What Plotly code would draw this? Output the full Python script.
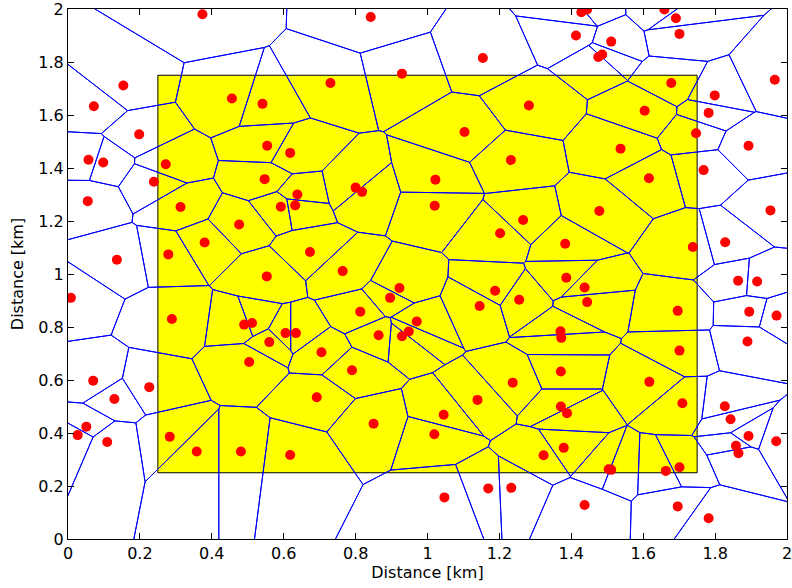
import numpy as np
import plotly.graph_objects as go

# Base-station positions [km]
x_km = [0.374, 0.154, 0.072, 0.198, 0.057, 0.098, 0.239, 0.055, 0.136, 0.272,
        0.313, 0.279, 0.380, 0.476, 0.456, 0.541, 0.554, 0.618, 0.547, 0.638,
        0.592, 0.632, 0.673, 0.553, 0.730, 0.842, 1.154, 0.929, 1.282, 1.103,
        1.232, 1.022, 0.800, 0.818, 1.020, 1.266, 1.202, 0.764, 1.428, 1.444,
        1.659, 1.691, 1.701, 1.413, 1.511, 1.475, 1.486, 1.966, 1.678, 1.799,
        1.604, 1.782, 1.747, 1.537, 1.893, 1.768, 1.616, 1.478, 1.954, 1.383,
        1.828, 1.738, 1.386, 1.864, 1.917, 0.008, 0.289, 0.490, 0.512, 0.605,
        0.634, 0.560, 0.504, 0.705, 0.070, 0.226, 0.129, 0.692, 0.051, 0.027,
        0.109, 0.283, 0.358, 0.481, 0.618, 0.922, 0.896, 0.813, 0.970, 0.948,
        0.929, 0.864, 0.790, 0.850, 1.045, 1.019, 1.139, 1.237, 1.145, 1.188,
        1.255, 1.370, 1.372, 1.371, 1.371, 1.388, 1.323, 1.047, 1.169, 1.233,
        1.437, 1.444, 1.696, 1.895, 1.971, 1.890, 1.701, 1.617, 1.709, 1.827,
        1.843, 1.893, 1.970, 1.858, 1.865, 1.379, 1.504, 1.511, 1.663, 1.701,
        1.437, 1.696, 1.782]
y_km = [1.980, 1.711, 1.633, 1.527, 1.431, 1.421, 1.348, 1.275, 1.054, 1.414,
        1.253, 1.074, 1.119, 1.187, 1.662, 1.642, 1.484, 1.457, 1.358, 1.300,
        1.254, 1.259, 1.083, 0.991, 1.721, 1.970, 1.815, 1.756, 1.636, 1.536,
        1.430, 1.356, 1.326, 1.310, 1.258, 1.204, 1.154, 1.011, 1.988, 1.998,
        1.998, 1.965, 1.906, 1.900, 1.877, 1.819, 1.828, 1.733, 1.721, 1.674,
        1.616, 1.608, 1.531, 1.473, 1.484, 1.392, 1.361, 1.238, 1.240, 1.114,
        1.120, 1.102, 0.986, 0.975, 0.972, 0.910, 0.830, 0.809, 0.815, 0.777,
        0.777, 0.743, 0.668, 0.705, 0.597, 0.573, 0.528, 0.535, 0.424, 0.392,
        0.366, 0.386, 0.330, 0.330, 0.317, 0.947, 0.910, 0.858, 0.821, 0.783,
        0.765, 0.769, 0.637, 0.435, 0.469, 0.395, 0.525, 0.590, 0.879, 0.937,
        0.903, 0.784, 0.759, 0.632, 0.500, 0.475, 0.316, 0.157, 0.191, 0.193,
        0.949, 0.894, 0.861, 0.858, 0.843, 0.745, 0.711, 0.593, 0.512, 0.501,
        0.452, 0.389, 0.369, 0.352, 0.324, 0.344, 0.263, 0.261, 0.257, 0.271,
        0.128, 0.123, 0.078]

# Area of interest (rectangle corners) [km]
area_x = [0.25, 1.75]
area_y = [0.25, 1.75]

tick_vals = [0, 0.2, 0.4, 0.6, 0.8, 1, 1.2, 1.4, 1.6, 1.8, 2]
tick_text = ["0", "0.2", "0.4", "0.6", "0.8", "1", "1.2", "1.4", "1.6", "1.8", "2"]


def voronoi_edges(xs, ys, lo=-5.0, hi=7.0):
    pts = np.column_stack([xs, ys]).astype(float)
    ex, ey = [], []
    for i, p in enumerate(pts):
        poly = [(lo, lo), (hi, lo), (hi, hi), (lo, hi)]
        for j, q in enumerate(pts):
            if i == j:
                continue
            a, b = q - p
            c = (q @ q - p @ p) / 2.0
            new = []
            n = len(poly)
            for k in range(n):
                P = poly[k]
                Q = poly[(k + 1) % n]
                fp = a * P[0] + b * P[1] - c
                fq = a * Q[0] + b * Q[1] - c
                if fp <= 0:
                    new.append(P)
                if (fp < 0 < fq) or (fq < 0 < fp):
                    t = fp / (fp - fq)
                    new.append((P[0] + t * (Q[0] - P[0]), P[1] + t * (Q[1] - P[1])))
            poly = new
            if not poly:
                break
        n = len(poly)
        for k in range(n):
            P = poly[k]
            Q = poly[(k + 1) % n]
            ex += [P[0], Q[0], None]
            ey += [P[1], Q[1], None]
    return ex, ey


vx, vy = voronoi_edges(x_km, y_km)

FONT = "DejaVu Sans"

fig = go.Figure()
fig.add_shape(type="rect", x0=area_x[0], x1=area_x[1], y0=area_y[0], y1=area_y[1],
              fillcolor="#ffff00", line=dict(color="black", width=1), layer="below")
fig.add_trace(go.Scatter(x=vx, y=vy, mode="lines",
                         line=dict(color="#0000ff", width=1), hoverinfo="skip",
                         showlegend=False))
fig.add_trace(go.Scatter(x=x_km, y=y_km, mode="markers",
                         marker=dict(color="#ff0000", size=10, line=dict(width=0)),
                         showlegend=False, cliponaxis=True))

axis_common = dict(range=[0, 2], tickvals=tick_vals, ticktext=tick_text,
                   ticks="inside", ticklen=6, tickcolor="black", showline=True,
                   linecolor="black", linewidth=1, mirror="ticks", showgrid=False,
                   zeroline=False, automargin=False, ticklabeloverflow="allow",
                   tickfont=dict(family=FONT, size=16, color="black"))

fig.update_layout(
    width=792, height=588,
    margin=dict(l=68, r=5, t=9, b=49),
    paper_bgcolor="white", plot_bgcolor="white",
    font=dict(family=FONT, size=16, color="black"),
    xaxis=dict(**axis_common, title=dict(text="Distance [km]", standoff=2,
                                         font=dict(family=FONT, size=16))),
    yaxis=dict(**axis_common, title=dict(text="Distance [km]", standoff=10,
                                         font=dict(family=FONT, size=16))),
)

fig.write_html("out.html")
